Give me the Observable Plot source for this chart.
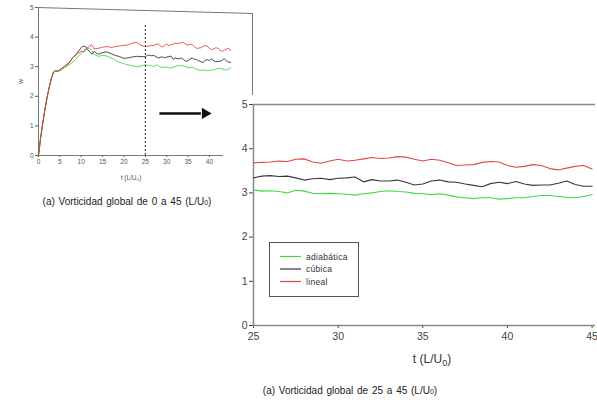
<!DOCTYPE html>
<html><head><meta charset="utf-8">
<script src="https://cdn.jsdelivr.net/npm/d3@7"></script>
<script src="https://cdn.jsdelivr.net/npm/@observablehq/plot@0.6"></script>
<style>
body{margin:0;background:#fff;}
#wrap{position:relative;width:597px;height:402px;overflow:hidden;font-family:"Liberation Sans",Arial,sans-serif;background:#fff;color:#222;}
#inset{position:absolute;left:0;top:0;}
#frame{position:absolute;left:37px;top:7px;width:215px;height:90px;border-top:1px solid #777;border-right:1px solid #777;transform:skewY(1.6deg);transform-origin:0 0;}
#main{position:absolute;left:228px;top:95px;background:#fff;}
.cap{position:absolute;font-size:10px;white-space:nowrap;transform:translate(-50%,-50%);word-spacing:1px;}
#xlab{position:absolute;left:432px;top:360px;font-size:12px;color:#333;transform:translate(-50%,-50%);white-space:nowrap;}
#xlab sub{font-size:9px;}
#legend{position:absolute;left:269px;top:242px;}
</style></head>
<body>
<div id="wrap">
  <div id="inset"></div>
  <div id="frame"></div>
  <div id="main"></div>
  <div id="legend"></div>
  <div id="xlab">t (L/U<sub>0</sub>)</div>
  <div class="cap" style="left:127px;top:201px">(a) Vorticidad global de 0 a 45 (L/U<span style="font-size:7px">0</span>)</div>
  <div class="cap" style="left:350px;top:390px">(a) Vorticidad global de 25 a 45 (L/U<span style="font-size:7px">0</span>)</div>
</div>
<script>
// ---- series names and colours
const seriesNames = ["adiabática", "cúbica", "lineal"];
const seriesColors = ["#44d844", "#383838", "#e24848"];

// ---- early part (inset only), t from 0 to 24
const tEarly = [0,0.5,1,1.5,2,2.5,3,3.5,4,4.5,5,6,7,8,9,10,10.5,11,11.5,12,12.5,13,14,15,16,17,18,19,20,21,22,23,24];
const linealEarly =     [0,0.6,1.1,1.55,1.95,2.3,2.6,2.82,2.87,2.85,2.9,3.0,3.12,3.3,3.42,3.52,3.5,3.6,3.65,3.7,3.74,3.6,3.62,3.66,3.68,3.65,3.68,3.7,3.72,3.74,3.8,3.82,3.72];
const cubicaEarly =     [0,0.6,1.1,1.55,1.95,2.3,2.6,2.82,2.87,2.85,2.9,3.0,3.1,3.3,3.45,3.65,3.7,3.68,3.58,3.5,3.42,3.52,3.42,3.48,3.5,3.44,3.38,3.34,3.28,3.3,3.33,3.35,3.34];
const adiabaticaEarly = [0,0.6,1.1,1.55,1.95,2.3,2.6,2.8,2.84,2.83,2.86,2.95,3.05,3.15,3.3,3.45,3.5,3.55,3.6,3.62,3.55,3.42,3.35,3.38,3.36,3.3,3.22,3.15,3.1,3.06,3.03,3.0,3.02];

// ---- main part, t from 25 to 45
const tMain = [25,25.5,26,26.5,27,27.5,28,28.5,29,29.5,30,30.5,31,31.5,32,32.5,33,33.5,34,34.5,35,35.5,36,36.5,37,37.5,38,38.5,39,39.5,40,40.5,41,41.5,42,42.5,43,43.5,44,44.5,45];
const linealMain =     [3.68,3.69,3.70,3.72,3.71,3.76,3.77,3.70,3.67,3.72,3.76,3.72,3.74,3.77,3.80,3.78,3.79,3.82,3.81,3.76,3.72,3.76,3.74,3.68,3.62,3.63,3.64,3.69,3.71,3.70,3.62,3.58,3.60,3.64,3.62,3.55,3.52,3.56,3.60,3.62,3.54];
const cubicaMain =     [3.34,3.38,3.39,3.37,3.38,3.34,3.29,3.32,3.33,3.30,3.33,3.34,3.36,3.25,3.30,3.27,3.27,3.29,3.24,3.18,3.20,3.27,3.29,3.25,3.24,3.20,3.17,3.14,3.21,3.24,3.21,3.26,3.20,3.17,3.18,3.18,3.22,3.27,3.19,3.15,3.15];
const adiabaticaMain = [3.07,3.04,3.05,3.03,3.00,3.06,3.04,2.99,2.98,2.99,2.98,2.97,2.95,2.98,3.00,3.03,3.05,3.03,3.02,2.99,2.98,2.96,2.98,2.95,2.91,2.89,2.87,2.89,2.89,2.86,2.87,2.89,2.89,2.92,2.94,2.94,2.92,2.90,2.89,2.92,2.96];

// ---- axes ticks
const insetXTicks = [0,5,10,15,20,25,30,35,40];
const yTicks = [0,1,2,3,4,5];
const mainXTicks = [25,30,35,40,45];

// ---- annotations
const dashT = [25];
const dashTop = 4.43;
const arrowX1 = [28.3], arrowX2 = [38.0], arrowY = [1.42], arrowHeadX = [39.0];

function rows(ts, vals, s) { return ts.map((t, i) => ({t, v: vals[i], s})); }

const mainRows = [
  ...rows(tMain, adiabaticaMain, seriesNames[0]),
  ...rows(tMain, cubicaMain, seriesNames[1]),
  ...rows(tMain, linealMain, seriesNames[2])
];
const insetRows = [
  ...rows(tEarly.concat(tMain), adiabaticaEarly.concat(adiabaticaMain), seriesNames[0]),
  ...rows(tEarly.concat(tMain), cubicaEarly.concat(cubicaMain), seriesNames[1]),
  ...rows(tEarly.concat(tMain), linealEarly.concat(linealMain), seriesNames[2])
];
const colorScale = {domain: seriesNames, range: seriesColors};
const intFmt = d => String(d);

const inset = Plot.plot({
  width: 260, height: 190,
  marginLeft: 38, marginTop: 7, marginBottom: 35, marginRight: 37,
  style: {fontSize: "6.5px", color: "#555", fontFamily: "Liberation Sans, Arial, sans-serif", background: "transparent"},
  x: {domain: [0, 43.3], ticks: insetXTicks, tickFormat: intFmt, tickSize: 2, tickPadding: 2, label: "t (L/U₀)", labelAnchor: "center", labelOffset: 24, labelArrow: "none"},
  y: {domain: [0, 5], ticks: yTicks, tickFormat: intFmt, tickSize: 3, tickPadding: 2, label: "w", labelAnchor: "center", labelOffset: 20, labelArrow: "none"},
  color: colorScale,
  marks: [
    Plot.ruleX([0], {stroke: "#777"}),
    Plot.ruleY([0], {stroke: "#777"}),
    Plot.ruleX(dashT, {y1: 0, y2: dashTop, stroke: "#222", strokeDasharray: "2,2"}),
    Plot.line(insetRows, {x: "t", y: "v", z: "s", stroke: "s", strokeWidth: 0.9}),
    Plot.link(arrowX1, {x1: d => d, x2: (d, i) => arrowX2[i], y1: (d, i) => arrowY[i], y2: (d, i) => arrowY[i], stroke: "#111", strokeWidth: 2.6}),
    Plot.dot(arrowHeadX, {x: d => d, y: (d, i) => arrowY[i], symbol: "triangle", rotate: 90, r: 4.2, fill: "#111", stroke: "none"})
  ]
});
document.getElementById("inset").appendChild(inset);

const main = Plot.plot({
  width: 369, height: 275,
  marginLeft: 25, marginTop: 9, marginBottom: 45, marginRight: 2,
  style: {fontSize: "10.5px", color: "#444", fontFamily: "Liberation Sans, Arial, sans-serif", background: "#fff"},
  x: {domain: [25, 45.2], ticks: mainXTicks, tickFormat: intFmt, tickSize: 3, tickPadding: 4, label: null},
  y: {domain: [0, 5], ticks: yTicks, tickFormat: intFmt, tickSize: 4, tickPadding: 2, label: null},
  color: colorScale,
  marks: [
    Plot.ruleY([5], {stroke: "#888", strokeWidth: 1.3}),
    Plot.ruleY([0], {stroke: "#888", strokeWidth: 1.5}),
    Plot.ruleX([25], {stroke: "#888", strokeWidth: 1.5}),
    Plot.line(mainRows, {x: "t", y: "v", z: "s", stroke: "s", strokeWidth: 1.1})
  ]
});
document.getElementById("main").appendChild(main);

// legend (small svg)
const ns = "http://www.w3.org/2000/svg";
const lsvg = document.createElementNS(ns, "svg");
lsvg.setAttribute("width", 90); lsvg.setAttribute("height", 55);
lsvg.style.display = "block";
const box = document.createElementNS(ns, "rect");
box.setAttribute("x", 0.5); box.setAttribute("y", 0.5); box.setAttribute("width", 89); box.setAttribute("height", 54);
box.setAttribute("fill", "#fff"); box.setAttribute("stroke", "#555");
lsvg.appendChild(box);
seriesNames.forEach((n, i) => {
  const yy = 14.5 + i * 12.5;
  const ln = document.createElementNS(ns, "line");
  ln.setAttribute("x1", 11); ln.setAttribute("x2", 32);
  ln.setAttribute("y1", yy); ln.setAttribute("y2", yy);
  ln.setAttribute("stroke", seriesColors[i]); ln.setAttribute("stroke-width", 1.2);
  lsvg.appendChild(ln);
  const tx = document.createElementNS(ns, "text");
  tx.setAttribute("x", 37); tx.setAttribute("y", yy + 3);
  tx.setAttribute("font-size", "8.5px"); tx.setAttribute("letter-spacing", "0.3px");
  tx.setAttribute("fill", "#333");
  tx.setAttribute("font-family", "Liberation Sans, Arial, sans-serif");
  tx.textContent = n;
  lsvg.appendChild(tx);
});
document.getElementById("legend").appendChild(lsvg);
</script>
</body></html>
